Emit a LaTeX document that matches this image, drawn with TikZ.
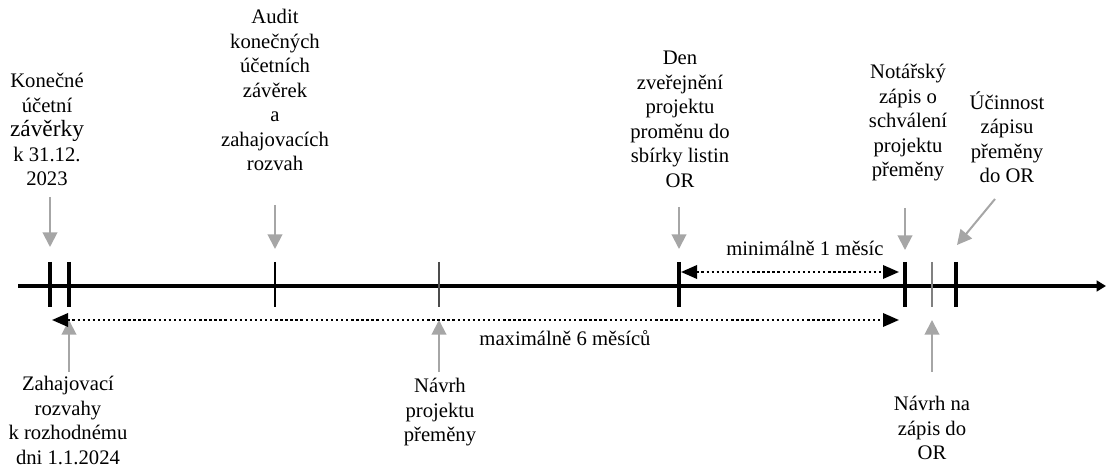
\documentclass[tikz,border=0pt]{standalone}
\usepackage{fontspec}
\setmainfont{Liberation Serif}
\usetikzlibrary{arrows.meta,positioning}

\begin{document}
\begin{tikzpicture}[x=0.75pt,y=-0.75pt,
    txt/.style={align=center,inner sep=0pt,font=\fontsize{15.5}{18.4}\selectfont},
    pointer/.style={draw=black!35,line width=1.5pt,-{Triangle[length=11pt,width=11pt]}},
    bigtick/.style={line width=2.4pt},
    smalltick/.style={line width=0.9pt},
    period/.style={line width=1.8pt,dotted,{Triangle[length=12pt,width=10pt]}-{Triangle[length=12pt,width=10pt]}}]
  \useasboundingbox (0,0) rectangle (1107,470);

  % time axis
  \coordinate (axisstart) at (18,286);
  \coordinate (axisend) at (1106,286);
  \draw[line width=3pt,-{Triangle[length=7pt,width=8pt]}] (axisstart) -- (axisend);

  % ticks on the axis
  \draw[bigtick] (50,262) -- (50,307);
  \draw[bigtick] (69,262) -- (69,307);
  \draw[smalltick] (275,262) -- (275,307);
  \draw[smalltick,black!70] (439,262) -- (439,307);
  \draw[bigtick] (679,262) -- (679,307);
  \draw[bigtick] (905,262) -- (905,307);
  \draw[smalltick,black!50,line width=1.4pt] (932,262) -- (932,307);
  \draw[bigtick] (956,262) -- (956,307);

  % events above the axis
  \node[txt,anchor=north] (zaverky) at (47,73)
    {Konečné\\účetní\\{\fontsize{17.5}{18.4}\selectfont závěrky}\\k 31.12.\\2023};
  \node[txt,anchor=north] (audit) at (275,9)
    {Audit\\konečných\\účetních\\závěrek\\a\\zahajovacích\\rozvah};
  \node[txt,anchor=north] (den) at (680,51)
    {Den\\zveřejnění\\projektu\\proměnu do\\sbírky listin\\OR};
  \node[txt,anchor=north] (notar) at (908,64)
    {Notářský\\zápis o\\schválení\\projektu\\přeměny};
  \node[txt,anchor=north] (ucinnost) at (1007,91)
    {Účinnost\\zápisu\\přeměny\\do OR};

  % events below the axis
  \node[txt,anchor=north] (rozvahy) at (68,376)
    {Zahajovací\\rozvahy\\k rozhodnému\\dni 1.1.2024};
  \node[txt,anchor=north] (navrh) at (440,378)
    {Návrh\\projektu\\přeměny};
  \node[txt,anchor=north] (navrhor) at (932,396)
    {Návrh na\\zápis do\\OR};

  % pointers to the ticks
  \coordinate (p1) at (50,197);   \coordinate (q1) at (50,247);
  \coordinate (p2) at (275,205);  \coordinate (q2) at (275,249);
  \coordinate (p3) at (679,207);  \coordinate (q3) at (679,249);
  \coordinate (p4) at (905,208);  \coordinate (q4) at (905,250);
  \coordinate (p5) at (995,199);  \coordinate (q5) at (957,245);
  \coordinate (p6) at (69,372);   \coordinate (q6) at (69,320);
  \coordinate (p7) at (439,372);  \coordinate (q7) at (439,320);
  \coordinate (p8) at (932,372);  \coordinate (q8) at (932,320);
  \draw[pointer] (p1) -- (q1);
  \draw[pointer] (p2) -- (q2);
  \draw[pointer] (p3) -- (q3);
  \draw[pointer] (p4) -- (q4);
  \draw[pointer] (p5) -- (q5);
  \draw[pointer] (p6) -- (q6);
  \draw[pointer] (p7) -- (q7);
  \draw[pointer] (p8) -- (q8);

  % time limits
  \coordinate (minfrom) at (681,272);
  \coordinate (minto) at (899,272);
  \draw[period] (minfrom) -- (minto);
  \node[txt] (minlabel) at (805,248) {minimálně 1 měsíc};

  \coordinate (maxfrom) at (52,320);
  \coordinate (maxto) at (899,320);
  \draw[period] (maxfrom) -- (maxto);
  \node[txt] (maxlabel) at (565,338) {maximálně 6 měsíců};
\end{tikzpicture}
\end{document}
